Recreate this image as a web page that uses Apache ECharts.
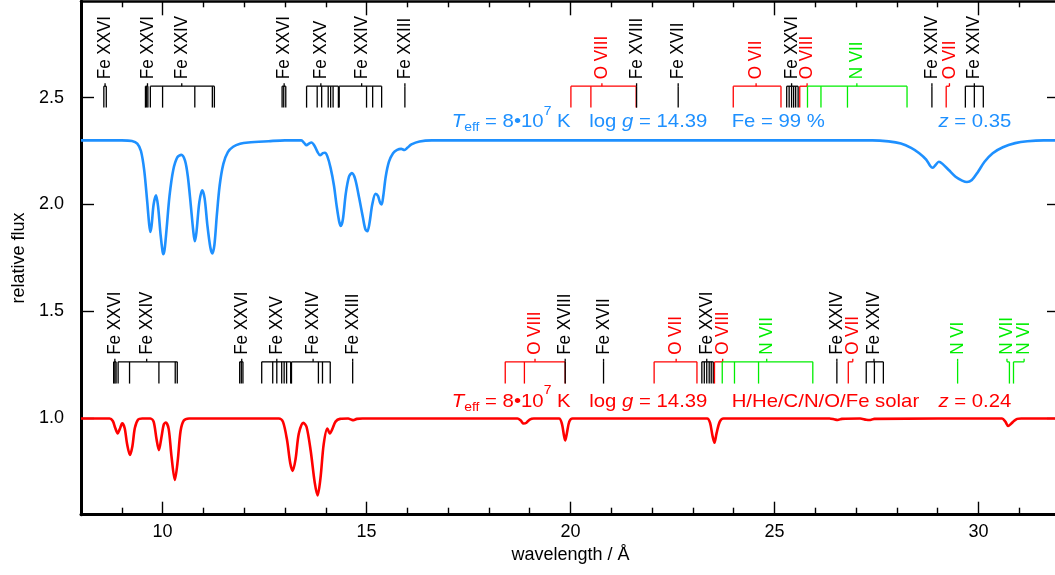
<!DOCTYPE html>
<html><head><meta charset="utf-8">
<script src="https://cdn.jsdelivr.net/npm/echarts@6/dist/echarts.min.js"></script>
<style>html,body{margin:0;padding:0;background:#fff;overflow:hidden}#c{width:1055px;height:575px}</style>
</head><body><div id="c"></div>
<script>
// ---------- data ----------
const blueWave = [8.00,9.00,9.25,9.38,9.47,9.55,9.62,9.67,9.70,9.73,9.78,9.84,9.89,9.95,10.00,10.02,10.05,10.10,10.17,10.26,10.36,10.46,10.55,10.62,10.69,10.75,10.79,10.83,10.90,10.97,11.03,11.10,11.17,11.22,11.27,11.33,11.40,11.49,11.60,11.73,11.90,12.10,12.60,13.00,13.40,13.47,13.53,13.59,13.65,13.72,13.80,13.86,13.93,13.98,14.04,14.12,14.20,14.27,14.33,14.37,14.42,14.49,14.57,14.64,14.72,14.82,14.91,14.97,15.02,15.07,15.14,15.22,15.28,15.33,15.37,15.41,15.47,15.55,15.65,15.75,15.85,15.93,16.00,16.10,16.30,16.60,20.00,24.00,27.40,27.80,28.10,28.35,28.55,28.72,28.82,28.88,28.95,29.03,29.12,29.28,29.44,29.60,29.72,29.84,29.98,30.15,30.35,30.60,30.90,31.20,31.60,32.00];
const blueFlux = [2.300,2.300,2.297,2.285,2.25,2.16,2.02,1.91,1.872,1.90,2.00,2.043,1.99,1.86,1.78,1.768,1.79,1.89,2.04,2.16,2.22,2.232,2.205,2.13,2.00,1.88,1.828,1.87,2.01,2.067,2.03,1.90,1.80,1.771,1.81,1.95,2.09,2.19,2.245,2.270,2.284,2.290,2.296,2.300,2.300,2.288,2.277,2.285,2.290,2.276,2.245,2.230,2.240,2.242,2.225,2.17,2.09,1.99,1.92,1.90,1.93,2.05,2.13,2.147,2.12,2.03,1.94,1.885,1.875,1.91,2.00,2.05,2.04,2.01,2.00,2.04,2.13,2.20,2.24,2.255,2.26,2.255,2.265,2.281,2.295,2.300,2.300,2.300,2.300,2.295,2.285,2.265,2.24,2.21,2.18,2.172,2.185,2.200,2.19,2.16,2.13,2.112,2.105,2.115,2.15,2.20,2.24,2.268,2.287,2.296,2.300,2.300];

const redWave = [8.00,8.70,8.78,8.84,8.90,8.95,9.01,9.07,9.13,9.20,9.26,9.32,9.40,9.50,9.70,9.78,9.85,9.91,9.97,10.03,10.08,10.15,10.22,10.30,10.37,10.44,10.52,10.65,12.85,12.95,13.05,13.13,13.19,13.26,13.34,13.45,13.53,13.63,13.73,13.80,13.87,13.95,14.04,14.10,14.16,14.24,14.35,14.55,14.62,14.68,14.76,14.90,18.70,18.78,18.85,18.92,19.00,19.10,19.72,19.79,19.84,19.87,19.91,19.97,20.05,23.35,23.42,23.48,23.53,23.58,23.66,23.75,26.35,26.48,26.55,26.65,27.10,27.25,27.35,27.45,30.58,30.66,30.73,30.80,30.87,30.95,31.05,32.00];
const redFlux = [1.000,1.000,0.988,0.955,0.930,0.950,0.977,0.955,0.88,0.829,0.87,0.955,0.995,1.000,1.000,0.985,0.905,0.852,0.91,0.972,0.981,0.95,0.82,0.712,0.80,0.94,0.99,1.000,1.000,0.985,0.90,0.79,0.755,0.81,0.93,0.980,0.96,0.85,0.70,0.640,0.72,0.88,0.953,0.930,0.950,0.985,0.998,1.000,0.995,0.992,0.998,1.000,1.000,0.990,0.976,0.980,0.995,1.000,1.000,0.975,0.92,0.897,0.93,0.985,1.000,1.000,0.980,0.920,0.886,0.930,0.985,1.000,1.000,0.995,0.993,0.998,1.000,0.994,0.993,0.998,1.000,0.985,0.965,0.975,0.988,0.998,1.000,1.000];

const xMajorTicks = [10, 15, 20, 25, 30];
const xMinorTicks = [9,11,12,13,14,16,17,18,19,21,22,23,24,26,27,28,29,31];
const yTicks = [1.0, 1.5, 2.0, 2.5];

// line identifications of the upper (blue) model
const upperIdLabels = ['Fe XXVI','Fe XXVI','Fe XXIV','Fe XXVI','Fe XXV','Fe XXIV','Fe XXIII','O VIII','Fe XVIII','Fe XVII','O VII','Fe XXVI','O VIII','N VII','Fe XXIV','O VII','Fe XXIV'];
const upperIdWave = [8.59, 9.63, 10.47, 12.98, 13.88, 14.88, 15.94, 20.77, 21.62, 22.64, 24.55, 25.42, 25.80, 27.02, 28.86, 29.29, 29.90];
const upperIdLines = [[8.56,8.62],[9.58,9.61,9.64],[9.70,10.00,10.79,11.22,11.27],[12.93,12.97,13.02],[13.53,13.79,13.90,14.06,14.12,14.18,14.31],[14.33,15.00,15.15,15.37],[15.94],[20.01,20.50,21.61],[21.62],[22.64],[23.99,25.16],[25.30,25.36,25.42,25.47,25.52,25.58],[25.62],[25.81,26.14,26.79,28.25],[28.86],[29.21],[29.68,29.90,30.12]];

// line identifications of the lower (red) model
const lowerIdLabels = ['Fe XXVI','Fe XXIV','Fe XXVI','Fe XXV','Fe XXIV','Fe XXIII','O VIII','Fe XVIII','Fe XVII','O VII','Fe XXVI','O VIII','N VII','Fe XXIV','O VII','Fe XXIV','N VI','N VII','N VI'];
const lowerIdWave = [8.83, 9.61, 11.94, 12.80, 13.69, 14.66, 19.13, 19.87, 20.81, 22.59, 23.34, 23.73, 24.81, 26.53, 26.92, 27.44, 29.49, 30.70, 31.12];
const lowerIdLines = [[8.80,8.83,8.86],[8.91,9.19,9.91,10.31,10.36],[11.89,11.93,11.97],[12.43,12.70,12.80,12.92,12.98,13.04,13.14],[13.16,13.82,13.92,14.11],[14.66],[18.40,18.87,19.87],[19.87],[20.81],[22.05,23.10],[23.22,23.28,23.34,23.40,23.45,23.50],[23.53],[23.72,24.02,24.61,25.94],[26.53],[26.81],[27.25,27.45,27.67],[29.49],[30.76],[30.86]];

// model parameter annotations
const blueNotes = ['{it|T}{sub|eff}{n| = 8•10}{sup|7}{n| K}', '{n|log }{it|g}{n| = 14.39}', '{n|Fe = 99 %}', '{it|z}{n| = 0.35}'];
const redNotes  = ['{it|T}{sub|eff}{n| = 8•10}{sup|7}{n| K}', '{n|log }{it|g}{n| = 14.39}', '{n|H/He/C/N/O/Fe solar}', '{it|z}{n| = 0.24}'];

// ---------- rendering ----------
const FONT = '"Liberation Sans", Arial, Helvetica, sans-serif';
const BLUE = '#1e90ff', RED = '#ff0000', GREEN = '#00ee00', BLACK = '#000000';
function elementColor(lbl) {
  if (lbl.indexOf('Fe') === 0) return BLACK;
  if (lbl.indexOf('O ') === 0) return RED;
  return GREEN;
}
function idSeries(labels, waves, lines, barFlux, footFlux) {
  return {
    type: 'custom', xAxisIndex: 0, yAxisIndex: 0, silent: true, clip: false, z: 5,
    data: labels.map((l, i) => [waves[i], barFlux]),
    renderItem: function (params, api) {
      const i = params.dataIndex;
      const col = elementColor(labels[i]);
      const yBar = api.coord([10, barFlux])[1];
      const yFoot = api.coord([10, footFlux])[1];
      const xl = api.coord([waves[i], barFlux])[0];
      const xs = lines[i].map(w => api.coord([w, barFlux])[0]);
      const xmin = Math.min.apply(null, xs.concat([xl]));
      const xmax = Math.max.apply(null, xs.concat([xl]));
      const ch = [];
      const st = { stroke: col, lineWidth: 1.3 };
      if (xmax - xmin > 0.6) ch.push({ type: 'line', shape: { x1: xmin, y1: yBar, x2: xmax, y2: yBar }, style: st });
      xs.forEach(x => ch.push({ type: 'line', shape: { x1: x, y1: yBar, x2: x, y2: yFoot }, style: st }));
      ch.push({ type: 'line', shape: { x1: xl, y1: yBar, x2: xl, y2: yBar - 3 }, style: st });
      ch.push({
        type: 'text', x: xl, y: yBar - 7, rotation: Math.PI / 2, scaleY: 1.08,
        style: { text: labels[i], fill: col, font: '17px ' + FONT, align: 'left', verticalAlign: 'middle', textAlign: 'left', textVerticalAlign: 'middle' }
      });
      return { type: 'group', children: ch };
    }
  };
}
function noteSeries(notes, waves, flux, col) {
  const rich = {
    n:   { fontSize: 19, lineHeight: 30, fontFamily: FONT },
    it:  { fontSize: 19, lineHeight: 30, fontFamily: FONT, fontStyle: 'italic' },
    sub: { fontSize: 13, lineHeight: 13, fontFamily: FONT, padding: [14, 0, 3, 0] },
    sup: { fontSize: 13, lineHeight: 8, fontFamily: FONT, padding: [0, 0, 22, 0] }
  };
  return {
    type: 'custom', xAxisIndex: 0, yAxisIndex: 0, silent: true, clip: false, z: 6,
    data: notes.map((t, i) => [waves[i], flux]),
    renderItem: function (params, api) {
      const i = params.dataIndex;
      const p = api.coord([waves[i], flux]);
      return {
        type: 'text', x: p[0], y: p[1], scaleX: 1.07,
        style: { text: notes[i], rich: rich, fill: col, font: '19px ' + FONT, align: 'left', verticalAlign: 'middle', textAlign: 'left', textVerticalAlign: 'middle' }
      };
    }
  };
}
const noteWaves = [17.09, 20.46, 23.95, 29.02];

const chart = echarts.init(document.getElementById('c'), null, { renderer: 'canvas' });
const tickStyle = { color: BLACK, width: 1.4 };
const xBase = { type: 'value', min: 8, max: 32, splitLine: { show: false } };
const yBase = { type: 'value', min: 0.55, max: 2.95, splitLine: { show: false } };
chart.setOption({
  animation: false,
  backgroundColor: '#ffffff',
  textStyle: { fontFamily: FONT },
  grid: { left: 81, top: 1.3, width: 979, height: 513.4, containLabel: false, outerBoundsMode: 'none' },
  xAxis: [
    Object.assign({}, xBase, {
      position: 'bottom',
      axisLine: { show: true, onZero: false, lineStyle: { color: BLACK, width: 3 } },
      axisTick: { show: true, inside: true, length: 13, lineStyle: tickStyle, customValues: xMajorTicks },
      axisLabel: { show: true, customValues: xMajorTicks, fontSize: 18, color: BLACK, margin: 8, fontFamily: FONT },
      name: 'wavelength / Å', nameLocation: 'middle', nameGap: 31,
      nameTextStyle: { fontSize: 18, color: BLACK, fontFamily: FONT }
    }),
    Object.assign({}, xBase, {
      position: 'bottom',
      axisLine: { show: false, onZero: false },
      axisTick: { show: true, inside: true, length: 7, lineStyle: tickStyle, customValues: xMinorTicks },
      axisLabel: { show: false }
    }),
    Object.assign({}, xBase, {
      position: 'top',
      axisLine: { show: true, onZero: false, lineStyle: { color: BLACK, width: 2.5 } },
      axisTick: { show: true, inside: true, length: 14, lineStyle: tickStyle, customValues: xMajorTicks },
      axisLabel: { show: false }
    }),
    Object.assign({}, xBase, {
      position: 'top',
      axisLine: { show: false, onZero: false },
      axisTick: { show: true, inside: true, length: 6, lineStyle: tickStyle, customValues: xMinorTicks },
      axisLabel: { show: false }
    })
  ],
  yAxis: [
    Object.assign({}, yBase, {
      position: 'left',
      axisLine: { show: true, onZero: false, lineStyle: { color: BLACK, width: 3 } },
      axisTick: { show: true, inside: true, length: 13, lineStyle: tickStyle, customValues: yTicks },
      axisLabel: { show: true, customValues: yTicks, fontSize: 18, color: BLACK, margin: 17, fontFamily: FONT,
                   formatter: v => Number(v).toFixed(1) },
      name: 'relative flux', nameLocation: 'middle', nameGap: 52,
      nameTextStyle: { fontSize: 18, color: BLACK, fontFamily: FONT }
    }),
    Object.assign({}, yBase, {
      position: 'right',
      axisLine: { show: true, onZero: false, lineStyle: { color: BLACK, width: 2.5 } },
      axisTick: { show: true, inside: true, length: 13, lineStyle: tickStyle, customValues: yTicks },
      axisLabel: { show: false }
    })
  ],
  series: [
    {
      type: 'line', name: 'Fe 99%', xAxisIndex: 0, yAxisIndex: 0, showSymbol: false, smooth: 0.3,
      lineStyle: { color: BLUE, width: 2.6 }, z: 3,
      data: blueWave.map((w, i) => [w, blueFlux[i]])
    },
    {
      type: 'line', name: 'solar', xAxisIndex: 0, yAxisIndex: 0, showSymbol: false, smooth: 0.3,
      lineStyle: { color: RED, width: 2.6 }, z: 3,
      data: redWave.map((w, i) => [w, redFlux[i]])
    },
    idSeries(upperIdLabels, upperIdWave, upperIdLines, 2.553, 2.453),
    idSeries(lowerIdLabels, lowerIdWave, lowerIdLines, 1.2645, 1.163),
    noteSeries(blueNotes, noteWaves, 2.386, BLUE),
    noteSeries(redNotes, noteWaves, 1.078, RED)
  ]
});
</script>
</body></html>
